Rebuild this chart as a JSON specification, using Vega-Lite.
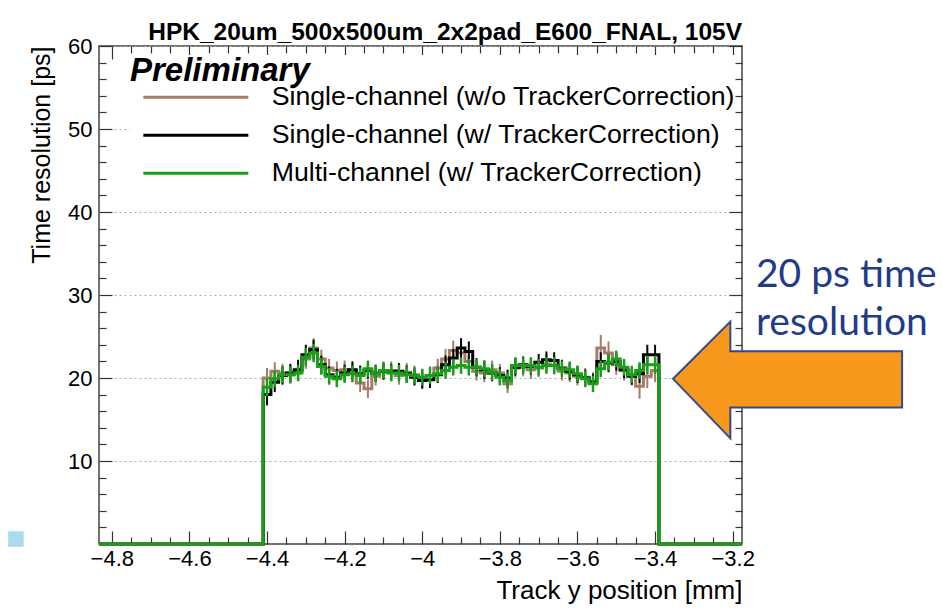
{
  "$schema": "https://vega.github.io/schema/vega-lite/v6.json",
  "width": 643,
  "height": 498,
  "autosize": "none",
  "padding": {"left": 99, "top": 46, "right": 200, "bottom": 68},
  "background": "white",
  "title": {"text": "HPK_20um_500x500um_2x2pad_E600_FNAL, 105V", "anchor": "end", "frame": "group", "font": "Liberation Sans", "fontSize": 24.5, "fontWeight": "bold", "color": "#000", "offset": -10},
  "config": {"view": {"stroke": "#444", "strokeWidth": 1.5}},
  "resolve": {"axis": {"x": "independent", "y": "independent"}},
  "data": {"values": [
    {"x": -4.833, "a": 0, "b": 0, "c": 0},
    {"x": -4.41, "xc": -4.40, "a": 20.0, "b": 18.0, "c": 18.9, "ea": 1.2, "eb": 1.3, "ec": 1.1},
    {"x": -4.39, "xc": -4.38, "a": 20.8, "b": 19.5, "c": 19.9, "ea": 1.1, "eb": 1.2, "ec": 1.0},
    {"x": -4.37, "xc": -4.36, "a": 20.6, "b": 20.3, "c": 20.4, "ea": 1.1, "eb": 1.1, "ec": 1.0},
    {"x": -4.35, "xc": -4.34, "a": 20.4, "b": 20.6, "c": 20.4, "ea": 1.1, "eb": 1.1, "ec": 1.0},
    {"x": -4.33, "xc": -4.32, "a": 20.8, "b": 21.0, "c": 20.6, "ea": 1.1, "eb": 1.2, "ec": 1.0},
    {"x": -4.31, "xc": -4.30, "a": 22.3, "b": 22.8, "c": 22.5, "ea": 1.2, "eb": 1.2, "ec": 1.1},
    {"x": -4.29, "xc": -4.28, "a": 23.6, "b": 23.4, "c": 23.0, "ea": 1.2, "eb": 1.2, "ec": 1.1},
    {"x": -4.27, "xc": -4.26, "a": 22.3, "b": 21.6, "c": 21.4, "ea": 1.1, "eb": 1.1, "ec": 1.0},
    {"x": -4.25, "xc": -4.24, "a": 21.2, "b": 20.4, "c": 20.2, "ea": 1.1, "eb": 1.0, "ec": 1.0},
    {"x": -4.23, "xc": -4.22, "a": 20.9, "b": 20.1, "c": 19.9, "ea": 1.1, "eb": 1.0, "ec": 1.0},
    {"x": -4.21, "xc": -4.20, "a": 21.0, "b": 20.6, "c": 20.4, "ea": 1.1, "eb": 1.0, "ec": 1.0},
    {"x": -4.19, "xc": -4.18, "a": 20.6, "b": 21.0, "c": 20.5, "ea": 1.1, "eb": 1.0, "ec": 1.0},
    {"x": -4.17, "xc": -4.16, "a": 19.4, "b": 20.5, "c": 20.3, "ea": 1.1, "eb": 1.0, "ec": 1.0},
    {"x": -4.15, "xc": -4.14, "a": 18.7, "b": 20.9, "c": 21.1, "ea": 1.1, "eb": 1.0, "ec": 1.0},
    {"x": -4.13, "xc": -4.12, "a": 20.2, "b": 20.6, "c": 20.5, "ea": 1.1, "eb": 1.0, "ec": 1.0},
    {"x": -4.11, "xc": -4.10, "a": 20.9, "b": 20.8, "c": 20.9, "ea": 1.1, "eb": 1.0, "ec": 1.0},
    {"x": -4.09, "xc": -4.08, "a": 20.9, "b": 20.7, "c": 20.6, "ea": 1.1, "eb": 1.0, "ec": 1.0},
    {"x": -4.07, "xc": -4.06, "a": 20.3, "b": 20.8, "c": 20.6, "ea": 1.1, "eb": 1.0, "ec": 1.0},
    {"x": -4.05, "xc": -4.04, "a": 20.7, "b": 20.5, "c": 20.4, "ea": 1.1, "eb": 1.0, "ec": 1.0},
    {"x": -4.03, "xc": -4.02, "a": 20.4, "b": 20.1, "c": 20.3, "ea": 1.1, "eb": 1.0, "ec": 1.0},
    {"x": -4.01, "xc": -4.00, "a": 20.0, "b": 19.7, "c": 20.1, "ea": 1.1, "eb": 1.0, "ec": 1.0},
    {"x": -3.99, "xc": -3.98, "a": 20.3, "b": 19.8, "c": 20.3, "ea": 1.1, "eb": 1.0, "ec": 1.0},
    {"x": -3.97, "xc": -3.96, "a": 21.2, "b": 20.4, "c": 20.5, "ea": 1.1, "eb": 1.0, "ec": 1.0},
    {"x": -3.95, "xc": -3.94, "a": 22.3, "b": 21.6, "c": 20.9, "ea": 1.2, "eb": 1.1, "ec": 1.0},
    {"x": -3.93, "xc": -3.92, "a": 23.3, "b": 22.4, "c": 21.3, "ea": 1.2, "eb": 1.1, "ec": 1.0},
    {"x": -3.91, "xc": -3.90, "a": 23.0, "b": 23.6, "c": 21.5, "ea": 1.2, "eb": 1.2, "ec": 1.0},
    {"x": -3.89, "xc": -3.88, "a": 22.0, "b": 23.2, "c": 21.3, "ea": 1.2, "eb": 1.2, "ec": 1.0},
    {"x": -3.87, "xc": -3.86, "a": 20.8, "b": 21.3, "c": 21.3, "ea": 1.1, "eb": 1.1, "ec": 1.0},
    {"x": -3.85, "xc": -3.84, "a": 20.6, "b": 21.0, "c": 21.1, "ea": 1.1, "eb": 1.1, "ec": 1.0},
    {"x": -3.83, "xc": -3.82, "a": 21.0, "b": 20.6, "c": 20.7, "ea": 1.1, "eb": 1.0, "ec": 1.0},
    {"x": -3.81, "xc": -3.80, "a": 20.6, "b": 20.3, "c": 20.1, "ea": 1.1, "eb": 1.0, "ec": 1.0},
    {"x": -3.79, "xc": -3.78, "a": 19.3, "b": 20.0, "c": 19.7, "ea": 1.1, "eb": 1.0, "ec": 1.0},
    {"x": -3.77, "xc": -3.76, "a": 21.2, "b": 21.3, "c": 21.5, "ea": 1.1, "eb": 1.0, "ec": 1.0},
    {"x": -3.75, "xc": -3.74, "a": 21.3, "b": 21.6, "c": 21.5, "ea": 1.1, "eb": 1.0, "ec": 1.0},
    {"x": -3.73, "xc": -3.72, "a": 21.0, "b": 21.4, "c": 21.5, "ea": 1.1, "eb": 1.0, "ec": 1.0},
    {"x": -3.71, "xc": -3.70, "a": 21.2, "b": 21.9, "c": 21.3, "ea": 1.1, "eb": 1.0, "ec": 1.0},
    {"x": -3.69, "xc": -3.68, "a": 21.7, "b": 22.2, "c": 21.5, "ea": 1.1, "eb": 1.0, "ec": 1.0},
    {"x": -3.67, "xc": -3.66, "a": 21.5, "b": 22.1, "c": 21.5, "ea": 1.1, "eb": 1.0, "ec": 1.0},
    {"x": -3.65, "xc": -3.64, "a": 20.8, "b": 21.2, "c": 21.1, "ea": 1.1, "eb": 1.0, "ec": 1.0},
    {"x": -3.63, "xc": -3.62, "a": 20.6, "b": 20.8, "c": 21.0, "ea": 1.1, "eb": 1.0, "ec": 1.0},
    {"x": -3.61, "xc": -3.60, "a": 20.2, "b": 20.4, "c": 20.5, "ea": 1.1, "eb": 1.0, "ec": 1.0},
    {"x": -3.59, "xc": -3.58, "a": 20.1, "b": 20.0, "c": 19.9, "ea": 1.1, "eb": 1.0, "ec": 1.0},
    {"x": -3.57, "xc": -3.56, "a": 19.6, "b": 19.5, "c": 19.3, "ea": 1.1, "eb": 1.0, "ec": 1.0},
    {"x": -3.55, "xc": -3.54, "a": 23.6, "b": 22.0, "c": 21.1, "ea": 1.6, "eb": 1.1, "ec": 1.0},
    {"x": -3.53, "xc": -3.52, "a": 23.0, "b": 21.8, "c": 21.9, "ea": 1.4, "eb": 1.1, "ec": 1.0},
    {"x": -3.51, "xc": -3.50, "a": 21.6, "b": 22.0, "c": 22.3, "ea": 1.2, "eb": 1.1, "ec": 1.0},
    {"x": -3.49, "xc": -3.48, "a": 20.9, "b": 21.0, "c": 21.3, "ea": 1.2, "eb": 1.0, "ec": 1.0},
    {"x": -3.47, "xc": -3.46, "a": 20.3, "b": 20.2, "c": 20.4, "ea": 1.2, "eb": 1.0, "ec": 1.0},
    {"x": -3.45, "xc": -3.44, "a": 19.0, "b": 20.5, "c": 20.9, "ea": 1.5, "eb": 1.1, "ec": 1.0},
    {"x": -3.43, "xc": -3.42, "a": 20.2, "b": 22.8, "c": 21.6, "ea": 1.4, "eb": 1.2, "ec": 1.1},
    {"x": -3.41, "xc": -3.40, "a": 20.9, "b": 22.8, "c": 21.6, "ea": 1.4, "eb": 1.2, "ec": 1.1},
    {"x": -3.39, "a": 0, "b": 0, "c": 0},
    {"x": -3.176, "a": 0, "b": 0, "c": 0}
  ]},
  "layer": [
    {
      "data": {"values": [{}]},
      "mark": {"type": "point", "shape": "square", "size": 240, "filled": true, "color": "#a9dbea", "opacity": 1, "clip": false},
      "encoding": {
        "x": {"datum": -5.047, "type": "quantitative", "scale": {"domain": [-4.833, -3.176], "nice": false, "zero": false},
              "axis": {"orient": "top", "values": [-4.75, -4.7, -4.65, -4.55, -4.5, -4.45, -4.35, -4.3, -4.25, -4.15, -4.1, -4.05, -3.95, -3.9, -3.85, -3.75, -3.7, -3.65, -3.55, -3.5, -3.45, -3.35, -3.3, -3.25], "tickSize": -7, "tickColor": "#333", "tickWidth": 1.2, "labels": false, "domain": false, "grid": false, "title": null}},
        "y": {"datum": 0.6, "type": "quantitative", "scale": {"domain": [0, 60], "nice": false, "zero": false},
              "axis": {"orient": "right", "values": [2, 4, 6, 8, 12, 14, 16, 18, 22, 24, 26, 28, 32, 34, 36, 38, 42, 44, 46, 48, 52, 54, 56, 58], "tickSize": -7, "tickColor": "#333", "tickWidth": 1.2, "labels": false, "domain": false, "grid": false, "title": null}}
      }
    },
    {
      "mark": {"type": "line", "interpolate": "step-after", "strokeWidth": 3},
      "encoding": {
        "x": {"field": "x", "type": "quantitative", "scale": {"domain": [-4.833, -3.176], "nice": false, "zero": false},
              "axis": {"orient": "bottom", "values": [-4.8, -4.6, -4.4, -4.2, -4, -3.8, -3.6, -3.4, -3.2], "format": "~g", "tickSize": -13, "tickColor": "#333", "tickWidth": 1.2, "labelPadding": 17, "labelFont": "Liberation Sans", "labelFontSize": 22, "labelColor": "#000", "labelFlush": false, "labelOverlap": false, "domain": false, "grid": false,
                       "title": "Track y position [mm]", "titleFont": "Liberation Sans", "titleFontSize": 26, "titleFontWeight": "normal", "titleColor": "#000", "titleAnchor": "end", "titlePadding": 8}},
        "y": {"field": "a", "type": "quantitative", "scale": {"domain": [0, 60], "nice": false, "zero": false},
              "axis": {"orient": "left", "values": [10, 20, 30, 40, 50, 60], "tickSize": -13, "tickColor": "#333", "tickWidth": 1.2, "labelPadding": 20, "labelFont": "Liberation Sans", "labelFontSize": 22, "labelColor": "#000", "domain": false,
                       "grid": true, "gridDash": [2, 3], "gridColor": "#aaa", "gridWidth": 1,
                       "title": "Time resolution [ps]", "titleFont": "Liberation Sans", "titleFontSize": 25, "titleFontWeight": "normal", "titleColor": "#000", "titleAnchor": "end", "titlePadding": 13}},
        "color": {"datum": "Single-channel (w/o TrackerCorrection)", "type": "nominal",
                  "scale": {"domain": ["Single-channel (w/o TrackerCorrection)", "Single-channel (w/ TrackerCorrection)", "Multi-channel (w/ TrackerCorrection)"], "range": ["#a57c6b", "#000000", "#18a018"]},
                  "legend": {"orient": "none", "legendX": 31, "legendY": 9, "padding": 0, "fillColor": "white", "title": "Preliminary", "titleFont": "Liberation Sans", "titleFontSize": 33, "titleFontWeight": "bold", "titleFontStyle": "italic", "titleColor": "#000", "titlePadding": -4, "titleLimit": 0,
                             "symbolType": "M 0 0 L 10.5 0", "symbolSize": 400, "symbolStrokeWidth": 3, "symbolFillColor": "transparent",
                             "labelFont": "Liberation Sans", "labelFontSize": 26.7, "labelColor": "#000", "labelLimit": 0, "labelOffset": 115, "rowPadding": 10}}
      }
    },
    {
      "transform": [{"filter": "isValid(datum.xc)"}],
      "mark": {"type": "errorbar", "color": "#a57c6b", "thickness": 2},
      "encoding": {
        "x": {"field": "xc", "type": "quantitative", "scale": {"domain": [-4.833, -3.176], "nice": false, "zero": false}, "axis": null},
        "y": {"field": "a", "type": "quantitative", "scale": {"domain": [0, 60], "nice": false, "zero": false}, "axis": null},
        "yError": {"field": "ea"}
      }
    },
    {
      "mark": {"type": "line", "interpolate": "step-after", "strokeWidth": 3},
      "encoding": {
        "x": {"field": "x", "type": "quantitative", "scale": {"domain": [-4.833, -3.176], "nice": false, "zero": false},
              "axis": {"orient": "bottom", "values": [-4.75, -4.7, -4.65, -4.55, -4.5, -4.45, -4.35, -4.3, -4.25, -4.15, -4.1, -4.05, -3.95, -3.9, -3.85, -3.75, -3.7, -3.65, -3.55, -3.5, -3.45, -3.35, -3.3, -3.25], "tickSize": -7, "tickColor": "#333", "tickWidth": 1.2, "labels": false, "domain": false, "grid": false, "title": null}},
        "y": {"field": "b", "type": "quantitative", "scale": {"domain": [0, 60], "nice": false, "zero": false},
              "axis": {"orient": "left", "values": [2, 4, 6, 8, 12, 14, 16, 18, 22, 24, 26, 28, 32, 34, 36, 38, 42, 44, 46, 48, 52, 54, 56, 58], "tickSize": -7, "tickColor": "#333", "tickWidth": 1.2, "labels": false, "domain": false, "grid": false, "title": null}},
        "color": {"datum": "Single-channel (w/ TrackerCorrection)", "type": "nominal"}
      }
    },
    {
      "transform": [{"filter": "isValid(datum.xc)"}],
      "mark": {"type": "errorbar", "color": "#000000", "thickness": 2},
      "encoding": {
        "x": {"field": "xc", "type": "quantitative", "scale": {"domain": [-4.833, -3.176], "nice": false, "zero": false}, "axis": null},
        "y": {"field": "b", "type": "quantitative", "scale": {"domain": [0, 60], "nice": false, "zero": false}, "axis": null},
        "yError": {"field": "eb"}
      }
    },
    {
      "mark": {"type": "line", "interpolate": "step-after", "strokeWidth": 3},
      "encoding": {
        "x": {"field": "x", "type": "quantitative", "scale": {"domain": [-4.833, -3.176], "nice": false, "zero": false},
              "axis": {"orient": "top", "values": [-4.8, -4.6, -4.4, -4.2, -4, -3.8, -3.6, -3.4, -3.2], "tickSize": -13, "tickColor": "#333", "tickWidth": 1.2, "labels": false, "domain": false, "grid": false, "title": null}},
        "y": {"field": "c", "type": "quantitative", "scale": {"domain": [0, 60], "nice": false, "zero": false},
              "axis": {"orient": "right", "values": [10, 20, 30, 40, 50, 60], "tickSize": -13, "tickColor": "#333", "tickWidth": 1.2, "labels": false, "domain": false, "grid": false, "title": null}},
        "color": {"datum": "Multi-channel (w/ TrackerCorrection)", "type": "nominal"}
      }
    },
    {
      "transform": [{"filter": "isValid(datum.xc)"}],
      "mark": {"type": "errorbar", "color": "#18a018", "thickness": 2.5},
      "encoding": {
        "x": {"field": "xc", "type": "quantitative", "scale": {"domain": [-4.833, -3.176], "nice": false, "zero": false}, "axis": null},
        "y": {"field": "c", "type": "quantitative", "scale": {"domain": [0, 60], "nice": false, "zero": false}, "axis": null},
        "yError": {"field": "ec"}
      }
    },
    {
      "data": {"values": [{}]},
      "mark": {"type": "point", "shape": "M -1 0 L -0.5 -0.5 L -0.5 -0.24 L 1 -0.24 L 1 0.25 L -0.5 0.25 L -0.5 0.52 Z", "size": 52441, "filled": true, "fill": "#f7981d", "stroke": "#2f4b8c", "strokeWidth": 2, "opacity": 1, "clip": false},
      "encoding": {
        "x": {"datum": -3.0585, "type": "quantitative", "axis": null},
        "y": {"datum": 19.9, "type": "quantitative", "axis": null}
      }
    },
    {
      "data": {"values": [{}]},
      "mark": {"type": "text", "text": ["20 ps time", "resolution"], "align": "left", "baseline": "alphabetic", "font": "Lato", "fontSize": 39, "lineHeight": 48, "color": "#1f3c88", "clip": false},
      "encoding": {
        "x": {"datum": -3.14, "type": "quantitative", "axis": null},
        "y": {"datum": 31.0, "type": "quantitative", "axis": null}
      }
    }
  ]
}
